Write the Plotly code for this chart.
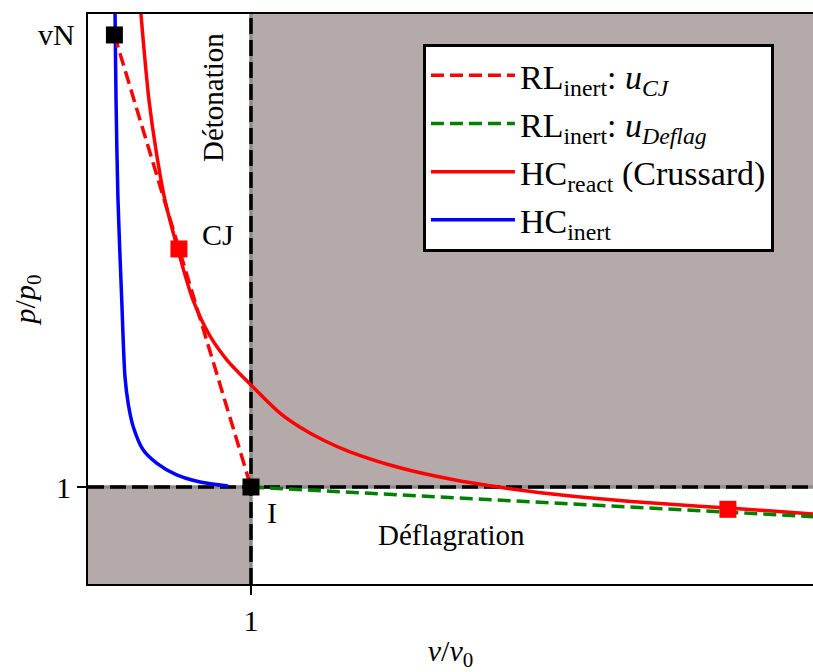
import plotly.graph_objects as go

# ---- data ----
X_MAX = 4.448
Y_MAX = 5.876

hc_inert_x = [0.163, 0.166, 0.172, 0.184, 0.207, 0.227, 0.248, 0.278, 0.339, 0.421, 0.544, 0.687, 0.859]
hc_inert_y = [6.30, 5.876, 4.99, 3.959, 2.928, 2.134, 1.845, 1.619, 1.381, 1.247, 1.124, 1.052, 1.010]

hc_react_x = [0.305, 0.325, 0.344, 0.374, 0.417, 0.472, 0.552, 0.644, 0.748, 0.853,
              1.0, 1.178, 1.301, 1.442, 1.607, 1.914, 2.221, 2.528, 2.834, 3.141,
              3.509, 3.926, 4.448]
hc_react_y = [6.30, 5.876, 5.505, 4.990, 4.474, 3.959, 3.443, 2.928, 2.557, 2.309,
              2.052, 1.761, 1.616, 1.485, 1.363, 1.198, 1.082, 0.997, 0.931, 0.878,
              0.829, 0.784, 0.722]

rl_cj_x = [0.162, 0.558, 1.0]
rl_cj_y = [5.66, 3.454, 1.0]

rl_deflag_x = [1.0, 4.448]
rl_deflag_y = [1.0, 0.694]

pt_vn = (0.162, 5.66)
pt_cj = (0.558, 3.454)
pt_i = (1.0, 1.0)
pt_deflag = (3.926, 0.770)

FONT = "Liberation Serif"
GREY = "#b5aaaa"

fig = go.Figure()

# shaded forbidden regions
fig.add_shape(type="rect", xref="x", yref="y", x0=1, x1=X_MAX, y0=1, y1=Y_MAX,
              fillcolor=GREY, line_width=0, layer="below")
fig.add_shape(type="rect", xref="x", yref="y", x0=0, x1=1, y0=0, y1=1,
              fillcolor=GREY, line_width=0, layer="below")

# dashed reference lines through I
for xs, ys in (([1, 1], [0, Y_MAX]), ([0, X_MAX], [1, 1])):
    fig.add_trace(go.Scatter(x=xs, y=ys, mode="lines", showlegend=False, hoverinfo="skip",
                             line=dict(color="#8c8c8c", width=3.5)))
    fig.add_trace(go.Scatter(x=xs, y=ys, mode="lines", showlegend=False, hoverinfo="skip",
                             line=dict(color="black", width=3.5, dash="16px,6px")))

fig.add_trace(go.Scatter(x=hc_inert_x, y=hc_inert_y, mode="lines", line_shape="spline",
                         name="HC<sub>inert</sub>", legendrank=4, legendgroup="d",
                         line=dict(color="blue", width=3.5, smoothing=0.8)))
fig.add_trace(go.Scatter(x=hc_react_x, y=hc_react_y, mode="lines", line_shape="spline",
                         name="HC<sub>react</sub> (Crussard)", legendrank=3, legendgroup="c",
                         line=dict(color="red", width=3.5, smoothing=0.8)))
fig.add_trace(go.Scatter(x=rl_cj_x, y=rl_cj_y, mode="lines",
                         name="RL<sub>inert</sub>: <i>u<sub>CJ</sub></i>", legendrank=1, legendgroup="a",
                         line=dict(color="red", width=3.5, dash="13px,6px")))
fig.add_trace(go.Scatter(x=rl_deflag_x, y=rl_deflag_y, mode="lines",
                         name="RL<sub>inert</sub>: <i>u<sub>Deflag</sub></i>", legendrank=2, legendgroup="b",
                         line=dict(color="green", width=3.5, dash="13px,6px")))

# characteristic points
for (px, py), col in ((pt_vn, "black"), (pt_cj, "red"), (pt_i, "black"), (pt_deflag, "red")):
    fig.add_trace(go.Scatter(x=[px], y=[py], mode="markers", showlegend=False,
                             marker=dict(symbol="square", size=17, color=col, line_width=0)))

annots = [
    dict(text="vN", xref="paper", yref="y", x=-0.043, y=pt_vn[1], size=30),
    dict(text="CJ", xref="x", yref="y", x=0.798, y=3.608, size=30),
    dict(text="I", xref="x", yref="y", x=1.129, y=0.732, size=30),
    dict(text="Déflagration", xref="x", yref="y", x=2.233, y=0.505, size=29),
    dict(text="Détonation", xref="x", yref="y", x=0.767, y=5.01, size=29, angle=-90),
]
for a in annots:
    fig.add_annotation(text=a["text"], xref=a["xref"], yref=a["yref"], x=a["x"], y=a["y"],
                       showarrow=False, xanchor="center", yanchor="middle",
                       textangle=a.get("angle", 0),
                       font=dict(family=FONT, size=a["size"], color="black"))

fig.update_layout(
    width=813, height=672,
    margin=dict(l=88, r=0, t=14, b=88, autoexpand=False),
    plot_bgcolor="white", paper_bgcolor="white",
    font=dict(family=FONT, size=30, color="black"),
    legend=dict(x=0.462, y=0.948, xanchor="left", yanchor="top",
                bgcolor="white", bordercolor="black", borderwidth=3,
                font=dict(family=FONT, size=34), tracegroupgap=1,
                itemwidth=84, traceorder="grouped"),
)
fig.update_xaxes(range=[0, X_MAX], showgrid=False, zeroline=False, automargin=False,
                 showline=True, linecolor="black", linewidth=2, mirror=True,
                 ticks="outside", ticklen=9, tickwidth=2, tickcolor="black",
                 tickvals=[1], ticktext=["1"], tickfont=dict(family=FONT, size=30),
                 title=dict(text="<i>v</i>/<i>v</i><sub>0</sub>", font=dict(family=FONT, size=30),
                            standoff=12))
fig.update_yaxes(range=[0, Y_MAX], showgrid=False, zeroline=False, automargin=False,
                 showline=True, linecolor="black", linewidth=2, mirror=False,
                 ticks="outside", ticklen=9, tickwidth=2, tickcolor="black",
                 tickvals=[1], ticktext=["1"], tickfont=dict(family=FONT, size=30),
                 title=dict(text="<i>p</i>/<i>p</i><sub>0</sub>", font=dict(family=FONT, size=30),
                            standoff=12))

fig.write_html("out.html", config={"displayModeBar": False},
               post_script="document.body.style.margin='0';document.body.style.overflow='hidden';")
